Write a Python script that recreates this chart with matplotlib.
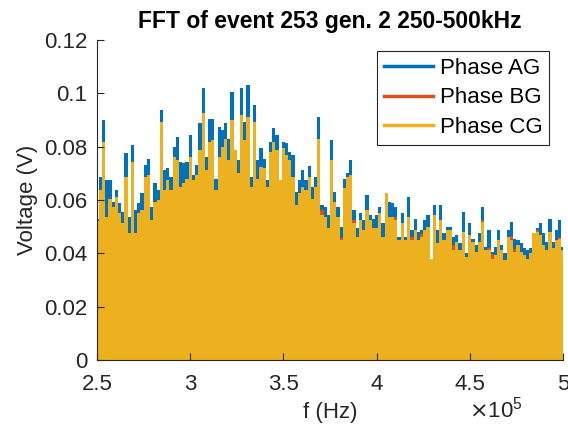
import numpy as np
import matplotlib
matplotlib.use('Agg')
import matplotlib.pyplot as plt
from matplotlib.ticker import FuncFormatter
from matplotlib.lines import Line2D

# Enveloppe des pics (V), 146 raies entre 250 et 500 kHz
phase_ag = [0.053, 0.0688, 0.090, 0.0675, 0.0675, 0.0594, 0.0638, 0.0588, 0.0556, 0.0775,
            0.0538, 0.0806, 0.0563, 0.0588, 0.0625, 0.0731, 0.0756, 0.0575, 0.0663, 0.0638,
            0.0938, 0.0713, 0.0719, 0.0688, 0.080, 0.0838, 0.0744, 0.0738, 0.0744, 0.0844,
            0.0694, 0.0731, 0.0888, 0.1019, 0.0763, 0.0906, 0.0906, 0.0681,
            0.0875, 0.0863, 0.0888, 0.0831, 0.1006, 0.0788, 0.075, 0.1019, 0.0894, 0.1031,
            0.0688, 0.0956, 0.075, 0.0794, 0.0756, 0.0675, 0.0819, 0.0869, 0.0844, 0.0675,
            0.0819, 0.0813, 0.0781, 0.0769, 0.0631, 0.0675, 0.0713, 0.0675, 0.0728, 0.065,
            0.0688, 0.0913, 0.0581, 0.0575, 0.0544, 0.0825,
            0.0631, 0.0575, 0.05, 0.0681, 0.07, 0.075, 0.0563, 0.0494, 0.055, 0.0525,
            0.0619, 0.0544, 0.0531, 0.0544, 0.0573, 0.0513, 0.0625, 0.0594, 0.0588, 0.0575,
            0.0463, 0.0553, 0.0463, 0.0613, 0.0488, 0.0531, 0.0481, 0.0488, 0.0525, 0.0544,
            0.0381, 0.0581, 0.0488, 0.0581, 0.0475, 0.05,
            0.05, 0.0463, 0.0469, 0.0438, 0.0556, 0.04, 0.0513, 0.0456, 0.0431, 0.0475,
            0.0575, 0.0425, 0.0488, 0.0406, 0.0425, 0.0488, 0.0431, 0.04, 0.0488, 0.0519,
            0.0456, 0.045, 0.0438, 0.0419, 0.0413, 0.0419, 0.0475, 0.0494, 0.0513, 0.0475,
            0.0444, 0.0531, 0.0444, 0.0488, 0.0525, 0.0425]

phase_cg = [0.052, 0.0638, 0.0819, 0.0538, 0.0606, 0.0575, 0.0613, 0.055, 0.0513, 0.0688,
            0.0475, 0.0744, 0.0475, 0.055, 0.0563, 0.0688, 0.0694, 0.0525, 0.0594, 0.060,
            0.0894, 0.0638, 0.0675, 0.0638, 0.0763, 0.075, 0.065, 0.0663, 0.0681, 0.0763,
            0.0675, 0.0694, 0.0788, 0.0925, 0.0713, 0.0819, 0.0825, 0.0638,
            0.0763, 0.080, 0.0831, 0.075, 0.090, 0.0788, 0.070, 0.0919, 0.0825, 0.0913,
            0.065, 0.0894, 0.0681, 0.0725, 0.0719, 0.065, 0.0781, 0.0819, 0.0788, 0.0675,
            0.0794, 0.0769, 0.075, 0.0688, 0.0581, 0.0625, 0.065, 0.0638, 0.0688, 0.0606,
            0.065, 0.0831, 0.0544, 0.0538, 0.0494, 0.075,
            0.0594, 0.0538, 0.045, 0.0644, 0.0688, 0.0694, 0.0513, 0.0463, 0.0525, 0.0488,
            0.0563, 0.0525, 0.0494, 0.0494, 0.055, 0.0463, 0.0625, 0.0538, 0.0538, 0.0525,
            0.045, 0.0513, 0.045, 0.0538, 0.045, 0.0488, 0.045, 0.0463, 0.0488, 0.05,
            0.0381, 0.0544, 0.0438, 0.0525, 0.045, 0.0488,
            0.0488, 0.0413, 0.0444, 0.0413, 0.0481, 0.0388, 0.0469, 0.0444, 0.0406, 0.0444,
            0.0519, 0.0413, 0.0413, 0.0381, 0.0394, 0.045, 0.0413, 0.0375, 0.0463, 0.045,
            0.0406, 0.0431, 0.0406, 0.0394, 0.0381, 0.04, 0.0475, 0.0481, 0.0469, 0.0431,
            0.0413, 0.0481, 0.0419, 0.045, 0.0456, 0.0413]

# Phase BG : seulement les raies où elle dépasse la phase CG
bg_index = [70, 76, 80, 84, 93, 98, 101, 111, 120, 122, 123, 129, 130, 137, 144]
bg_peaks = [0.0563, 0.0458, 0.0525, 0.0535, 0.0535, 0.0460, 0.0472, 0.0431, 0.0527,
            0.0421, 0.0398, 0.0465, 0.0415, 0.0488, 0.0460]

freq = np.linspace(2.5e5, 5e5, len(phase_ag))
df = freq[1] - freq[0]

blue = '#0072BD'
red = '#D95319'
yellow = '#EDB120'
dark = '#262626'

plt.rcParams['font.family'] = ['Liberation Sans', 'DejaVu Sans']

fig = plt.figure(figsize=(5.68, 4.36), dpi=100)
ax = fig.add_axes([0.171, 0.174, 0.820, 0.734])

ax.fill_between(freq, phase_ag, step='mid', color=blue, lw=0)
ax.bar(freq[bg_index], bg_peaks, width=df, color=red, lw=0)
ax.fill_between(freq, phase_cg, step='mid', color=yellow, lw=0)

ax.set_xlim(2.5e5, 5e5)
ax.set_ylim(0, 0.12)
ax.set_xticks([2.5e5, 3e5, 3.5e5, 4e5, 4.5e5, 5e5])
ax.set_yticks([0, 0.02, 0.04, 0.06, 0.08, 0.1, 0.12])
ax.xaxis.set_major_formatter(FuncFormatter(lambda v, p: '%g' % (v / 1e5)))
ax.yaxis.set_major_formatter(FuncFormatter(lambda v, p: '%g' % v))

for s in ['top', 'right']:
    ax.spines[s].set_visible(False)
for s in ['left', 'bottom']:
    ax.spines[s].set_color(dark)
    ax.spines[s].set_linewidth(0.8)
ax.tick_params(direction='in', length=5, width=0.8, colors=dark, labelsize=16)
ax.tick_params(axis='x', pad=10)
ax.tick_params(axis='y', pad=7)

ax.set_title('FFT of event 253 gen. 2 250-500kHz', fontsize=16.5, fontweight='bold', pad=9)
ax.set_xlabel('f (Hz)', fontsize=16, color=dark, labelpad=5)
ax.set_ylabel('Voltage (V)', fontsize=16, color=dark, labelpad=4)
ax.text(0.855, -0.155, r'$\times\mathregular{10^5}$', transform=ax.transAxes,
        fontsize=16, color=dark, ha='center', va='center')

handles = [Line2D([], [], color=blue, lw=2.5),
           Line2D([], [], color=red, lw=2.5),
           Line2D([], [], color=yellow, lw=2.5)]
leg = ax.legend(handles, ['Phase AG', 'Phase BG', 'Phase CG'], loc='upper right',
                bbox_to_anchor=(0.97, 0.965), borderaxespad=0, fontsize=16,
                fancybox=False, framealpha=1, handlelength=2.2, handletextpad=0.3,
                labelspacing=0.38, borderpad=0.3)
leg.get_frame().set_edgecolor(dark)
leg.get_frame().set_linewidth(0.8)

plt.savefig('out.png', dpi=100)
